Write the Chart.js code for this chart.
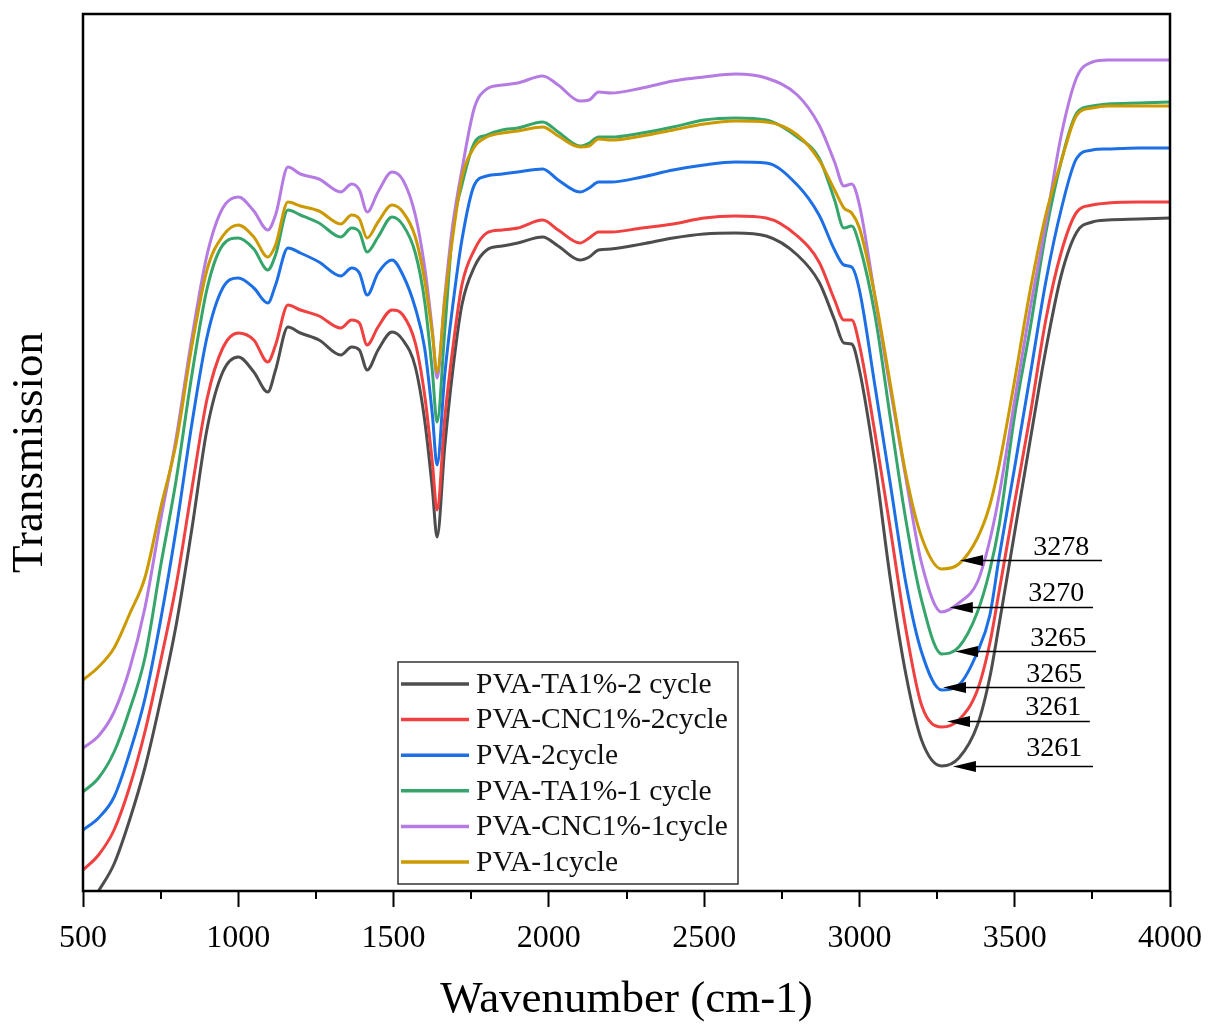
<!DOCTYPE html>
<html>
<head>
<meta charset="utf-8">
<title>FTIR spectra</title>
<script src="https://cdn.jsdelivr.net/npm/chart.js@4.4.1/dist/chart.umd.min.js"></script>
<style>
  html, body { margin: 0; padding: 0; background: #fff; }
  #wrap { width: 1210px; height: 1028px; position: relative; }
</style>
</head>
<body>
<div id="wrap"><canvas id="ftirChart"></canvas></div>
<script>
// wavenumber grid (cm-1)
const wavenumbers = [500, 550, 600, 650, 700, 750, 800, 850, 900, 950, 1000, 1050, 1095, 1120, 1160, 1200,
  1260, 1330, 1365, 1390, 1415, 1450, 1495, 1530, 1570, 1600, 1625, 1640, 1665, 1690, 1720, 1760, 1800,
  1850, 1900, 1980, 2030, 2100, 2130, 2160, 2200, 2300, 2400, 2500, 2600, 2700, 2800, 2870, 2920, 2950,
  2975, 3000, 3050, 3100, 3150, 3200, 3265, 3320, 3380, 3420, 3450, 3500, 3550, 3600, 3650, 3700, 3750,
  3800, 3900, 4000];

// transmission (arbitrary units, no scale shown on the figure)
const pvaTa2cycle = [-2.5, 0.0, 2.7, 7.1, 12.4, 19.1, 26.6, 36.1, 46.3, 51.9, 53.4, 51.9, 49.9, 52.1, 56.4, 55.8,
  55.1, 53.6, 54.4, 54.1, 52.1, 54.1, 55.9, 55.1, 52.4, 47.1, 40.2, 35.4, 44.5, 51.9, 58.6, 62.4, 64.1,
  64.5, 64.8, 65.4, 64.5, 63.1, 63.4, 64.1, 64.2, 64.7, 65.3, 65.7, 65.8, 65.5, 63.6, 60.9, 57.1, 54.8,
  54.7, 52.1, 42.8, 31.1, 21.6, 15.1, 12.5, 13.3, 16.6, 21.4, 26.7, 35.9, 45.1, 54.1, 61.6, 65.9, 66.9,
  67.1, 67.2, 67.3];
const pvaCnc2cycle = [2.1, 3.6, 6.1, 10.4, 16.0, 23.0, 30.6, 40.1, 49.3, 54.3, 55.8, 55.1, 52.9, 54.6, 58.6, 58.1,
  57.5, 56.3, 57.1, 56.8, 54.6, 56.4, 58.1, 57.6, 54.8, 49.6, 42.8, 38.1, 47.3, 54.1, 60.6, 64.1, 65.8,
  66.1, 66.3, 67.1, 66.1, 64.8, 65.3, 65.9, 65.9, 66.3, 66.7, 67.3, 67.5, 67.3, 65.5, 62.9, 59.1, 57.1,
  57.1, 54.6, 45.8, 36.1, 26.1, 18.6, 16.4, 17.1, 20.1, 24.8, 30.0, 38.9, 47.6, 57.1, 63.9, 67.9, 68.6,
  68.8, 68.9, 68.9];
const pva2cycle = [6.1, 7.3, 9.4, 13.8, 19.3, 27.1, 36.2, 46.6, 55.5, 60.3, 61.3, 60.3, 58.8, 60.6, 64.3, 63.8,
  62.9, 61.5, 62.3, 61.8, 59.6, 61.8, 63.1, 61.6, 58.3, 54.3, 47.6, 42.6, 51.7, 58.4, 65.1, 70.6, 71.5,
  71.7, 71.9, 72.2, 71.1, 69.9, 70.3, 70.9, 70.9, 71.4, 72.1, 72.6, 72.9, 72.8, 70.6, 67.6, 64.1, 62.6,
  62.4, 60.1, 50.5, 40.6, 30.7, 23.9, 20.1, 20.6, 23.9, 27.6, 33.4, 42.4, 51.6, 60.9, 68.2, 73.3, 74.1,
  74.2, 74.3, 74.3];
const pvaTa1cycle = [9.9, 11.3, 13.9, 18.1, 23.4, 32.5, 41.1, 51.5, 60.3, 64.6, 65.3, 64.2, 62.1, 63.6, 68.1, 67.6,
  66.8, 65.4, 66.3, 65.9, 63.9, 65.4, 67.4, 66.6, 63.8, 59.0, 51.9, 46.9, 56.1, 66.0, 70.6, 74.8, 75.6,
  76.1, 76.3, 76.9, 75.9, 74.5, 74.8, 75.4, 75.4, 75.8, 76.4, 77.1, 77.3, 77.1, 75.4, 73.3, 69.1, 66.3,
  66.5, 64.6, 57.6, 47.2, 37.0, 29.1, 23.7, 24.4, 27.9, 32.1, 36.6, 47.6, 56.3, 65.8, 73.0, 77.8, 78.5,
  78.7, 78.8, 78.9];
const pvaCnc1cycle = [14.3, 15.5, 17.9, 22.2, 28.4, 37.1, 45.3, 55.2, 63.7, 68.3, 69.4, 68.0, 66.1, 67.6, 72.4, 71.7,
  71.2, 69.9, 70.7, 70.1, 67.9, 69.9, 71.9, 71.1, 67.6, 62.4, 56.0, 51.3, 59.5, 66.5, 72.1, 78.3, 80.2,
  80.6, 80.8, 81.5, 80.6, 79.0, 79.1, 79.9, 79.8, 80.3, 81.0, 81.4, 81.7, 81.3, 79.6, 76.6, 72.9, 70.5,
  70.7, 68.6, 59.4, 50.1, 41.2, 32.8, 27.9, 28.8, 30.9, 35.1, 39.6, 49.1, 58.3, 66.7, 75.6, 81.4, 82.9,
  83.1, 83.1, 83.1];
const pva1cycle = [21.1, 22.4, 24.3, 27.7, 31.4, 38.3, 44.8, 54.4, 62.2, 65.5, 66.6, 65.4, 63.4, 64.6, 68.9, 68.5,
  68.0, 66.7, 67.6, 67.2, 65.3, 66.9, 68.6, 67.9, 65.4, 61.1, 55.7, 51.9, 59.1, 65.3, 71.3, 74.4, 75.4,
  75.8, 76.0, 76.4, 75.5, 74.4, 74.5, 75.2, 75.1, 75.5, 76.1, 76.7, 77.0, 76.9, 75.6, 73.1, 70.1, 68.3,
  67.8, 66.3, 59.5, 50.6, 41.6, 35.4, 32.2, 32.7, 35.3, 38.6, 42.6, 51.1, 60.1, 67.6, 73.0, 77.6, 78.3,
  78.5, 78.5, 78.5];

const seriesNames = ["PVA-TA1%-2 cycle", "PVA-CNC1%-2cycle", "PVA-2cycle", "PVA-TA1%-1 cycle", "PVA-CNC1%-1cycle", "PVA-1cycle"];
const seriesValues = [pvaTa2cycle, pvaCnc2cycle, pva2cycle, pvaTa1cycle, pvaCnc1cycle, pva1cycle];
const seriesColors = ["#4d4d4d", "#f04040", "#1c6fe4", "#35a56b", "#b57be2", "#cc9a00"];

// O-H band minima marked on the figure
const peakLabels = ["3278", "3270", "3265", "3265", "3261", "3261"];
const arrowTip = [3324, 3291, 3308, 3269, 3282, 3301];
const arrowEnd = [3781, 3752, 3762, 3726, 3742, 3752];
const arrowLevel = [33.1, 28.4, 24.0, 20.4, 17.0, 12.5];
const labelAt = [3650, 3634, 3640, 3627, 3624, 3627];
const labelLift = [6, 7, 6, 6, 7, 11];

const serif = "'Liberation Serif', 'Times New Roman', serif";

const extras = {
    id: "extras",
    afterDatasetsDraw(chart) {
        const { ctx, chartArea: a, scales: { x, y } } = chart;
        ctx.save();

        // minor ticks
        ctx.strokeStyle = "#000";
        ctx.lineWidth = 2;
        for (let v = 750; v < 4000; v += 500) {
            const px = Math.round(x.getPixelForValue(v));
            ctx.beginPath();
            ctx.moveTo(px, a.bottom);
            ctx.lineTo(px, a.bottom + 8);
            ctx.stroke();
        }

        // frame
        ctx.lineWidth = 2.5;
        ctx.strokeRect(a.left, a.top, a.right - a.left, a.bottom - a.top);

        // arrows + peak labels
        ctx.fillStyle = "#000";
        ctx.font = "28px " + serif;
        ctx.textAlign = "center";
        ctx.textBaseline = "alphabetic";
        peakLabels.forEach((lab, i) => {
            const x0 = x.getPixelForValue(arrowTip[i]);
            const x1 = x.getPixelForValue(arrowEnd[i]);
            const yy = Math.round(y.getPixelForValue(arrowLevel[i])) + 0.5;
            ctx.lineWidth = 1.3;
            ctx.beginPath();
            ctx.moveTo(x0 + 10, yy);
            ctx.lineTo(x1, yy);
            ctx.stroke();
            ctx.beginPath();
            ctx.moveTo(x0, yy);
            ctx.lineTo(x0 + 23, yy - 5.5);
            ctx.lineTo(x0 + 23, yy + 5.5);
            ctx.closePath();
            ctx.fill();
            ctx.fillText(lab, x.getPixelForValue(labelAt[i]), yy - labelLift[i]);
        });

        // legend box
        const bx = 398, by = 662, bw = 340, bh = 222;
        ctx.fillStyle = "#fff";
        ctx.fillRect(bx, by, bw, bh);
        ctx.strokeStyle = "#333";
        ctx.lineWidth = 1.5;
        ctx.strokeRect(bx, by, bw, bh);
        ctx.textAlign = "left";
        ctx.textBaseline = "middle";
        ctx.font = "29.5px " + serif;
        chart.data.datasets.forEach((ds, i) => {
            const ry = 684 + i * 35.6;
            ctx.strokeStyle = ds.borderColor;
            ctx.lineWidth = 3.5;
            ctx.beginPath();
            ctx.moveTo(401, ry);
            ctx.lineTo(469, ry);
            ctx.stroke();
            ctx.fillStyle = "#111";
            ctx.fillText(ds.label, 476, ry + 1);
        });

        ctx.restore();
    }
};

const datasets = seriesNames.map((name, i) => ({
    label: name,
    data: wavenumbers.map((w, j) => ({ x: w, y: seriesValues[i][j] })),
    borderColor: seriesColors[i],
    backgroundColor: seriesColors[i],
    borderWidth: 3,
    pointRadius: 0,
    cubicInterpolationMode: "monotone",
    order: seriesNames.length - 1 - i
}));

new Chart(document.getElementById("ftirChart"), {
    type: "line",
    data: { datasets: datasets },
    options: {
        responsive: true,
        maintainAspectRatio: false,
        animation: false,
        layout: { padding: { top: 14, right: 0, bottom: 0, left: 0 } },
        plugins: {
            legend: { display: false },
            tooltip: { enabled: false }
        },
        scales: {
            x: {
                type: "linear",
                min: 500,
                max: 4000,
                afterFit: (s) => { s.height = 137; s.paddingRight = 40; s.paddingLeft = 0; },
                border: { display: false },
                grid: {
                    display: true,
                    drawOnChartArea: false,
                    drawTicks: true,
                    tickLength: 16,
                    tickWidth: 2,
                    tickColor: "#000"
                },
                ticks: {
                    stepSize: 500,
                    autoSkip: false,
                    maxRotation: 0,
                    padding: 12,
                    color: "#000",
                    font: { family: serif, size: 32 },
                    callback: (v) => String(v)
                },
                title: {
                    display: true,
                    text: "Wavenumber (cm-1)",
                    color: "#000",
                    font: { family: serif, size: 45 },
                    padding: { top: 0, bottom: 1 }
                }
            },
            y: {
                min: 0,
                max: 87.7,
                afterFit: (s) => { s.width = 83; },
                border: { display: false },
                grid: { display: false },
                ticks: { display: false },
                title: {
                    display: true,
                    text: "Transmission",
                    color: "#000",
                    font: { family: serif, size: 45 },
                    padding: { top: 3, bottom: 0 }
                }
            }
        }
    },
    plugins: [extras]
});
</script>
</body>
</html>
